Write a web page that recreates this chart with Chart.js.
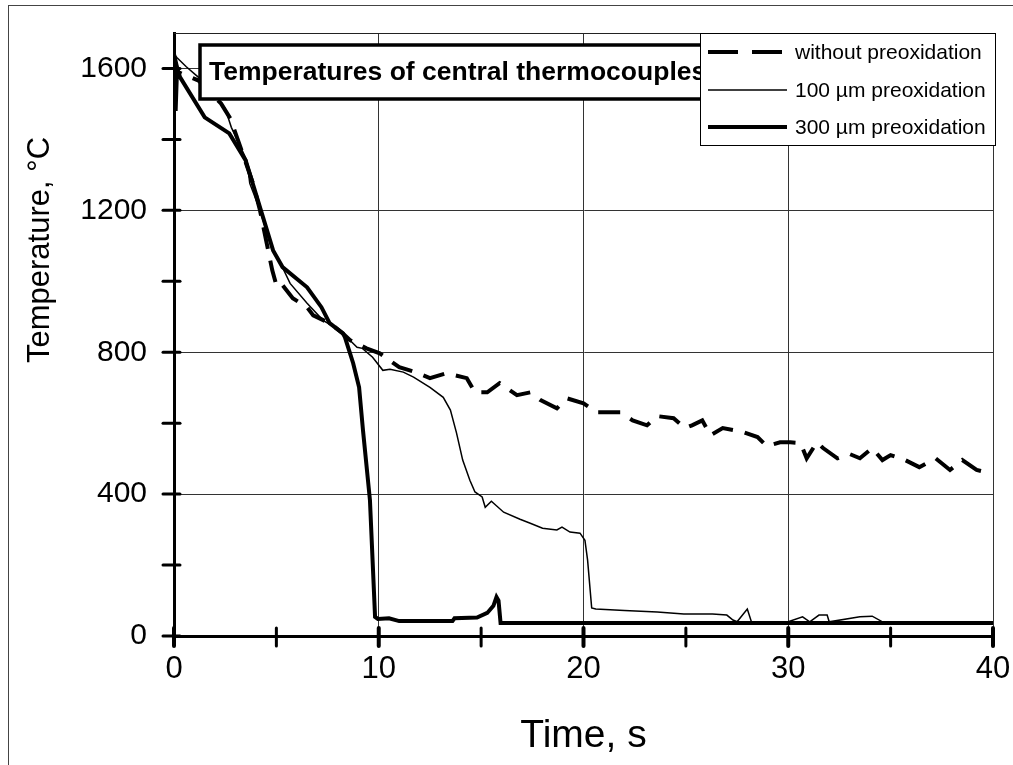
<!DOCTYPE html>
<html>
<head>
<meta charset="utf-8">
<script src="https://cdn.jsdelivr.net/npm/chart.js@4"></script>
<style>
  html, body { margin: 0; padding: 0; background: #fff; }
</style>
</head>
<body>
<canvas id="myChart" width="1013" height="765"></canvas>
<script>
// series: time (s) and temperature (°C)
var timeWithout = [0, 0.2, 1.2, 2.3, 2.75, 3.3, 3.86, 4.2, 4.6, 4.8, 5.03, 5.3, 5.8, 6.5, 6.8, 7.6, 8.25, 8.6, 9.4, 10.05,
  11.0, 11.8, 12.5, 13.3, 14.3, 14.7, 15.3, 15.9, 16.75, 17.4, 17.9, 18.7, 19.2, 20.0, 20.65, 21.8, 22.4, 23.1, 23.6, 24.4,
  24.96, 25.3, 25.8, 26.2, 26.8, 27.8, 28.5, 28.95, 29.6, 30.1, 30.6, 30.9, 31.4, 31.7, 32.4, 33.0, 33.5, 34.1, 34.6, 35.0,
  35.6, 36.4, 37.2, 37.9, 38.5, 39.2, 39.85];
var tempWithout = [1640, 1590, 1566, 1501, 1459, 1369, 1276, 1200, 1087, 1031, 983, 989, 952, 927, 904, 882, 853, 834, 811, 797,
  758, 744, 727, 741, 727, 687, 687, 713, 679, 687, 665, 642, 670, 656, 631, 631, 608, 594, 620, 614,
  586, 594, 608, 566, 586, 575, 561, 535, 546, 546, 544, 501, 546, 530, 501, 513, 501, 530, 496, 510,
  499, 476, 501, 468, 496, 468, 459];

var time100 = [0, 0.15, 0.6, 1.1, 1.8, 2.5, 2.8, 3.56, 3.7, 4.2, 4.7, 5.2, 5.67, 6.5, 7.28, 8.1, 8.94, 9.2, 9.7, 10.2,
  10.55, 11.2, 11.7, 12.5, 13.15, 13.5, 13.8, 14.1, 14.45, 14.7, 15.05, 15.2, 15.5, 16.1, 16.9, 17.4, 18.0, 18.7, 18.95, 19.34,
  19.83, 20.07, 20.2, 20.4, 20.6, 22.0, 23.6, 24.9, 26.3, 27.0, 27.3, 27.5, 28.0, 28.2, 30.0, 30.7, 31.05, 31.5, 31.9, 32.0,
  33.5, 34.1, 34.6, 36.0];
var temp100 = [1640, 1630, 1605, 1580, 1545, 1487, 1434, 1341, 1276, 1200, 1107, 1051, 994, 938, 890, 862, 814, 811, 786, 749,
  752, 744, 730, 701, 673, 637, 572, 496, 439, 406, 392, 363, 380, 349, 329, 318, 304, 299, 307, 293,
  290, 270, 214, 79, 76, 72, 68, 62, 62, 59, 45, 40, 76, 40, 40, 54, 40, 59, 59, 40,
  54, 56, 40, 40];

var time300 = [0, 0.08, 0.15, 0.3, 1.5, 2.7, 3.5, 4.35, 4.84, 5.3, 6.5, 7.2, 7.6, 8.25, 8.35, 8.75, 9.04, 9.23, 9.57, 9.82,
  9.96, 10.5, 11.0, 13.6, 13.7, 14.8, 15.3, 15.6, 15.75, 15.85, 15.95, 40];
var temp300 = [1610, 1480, 1600, 1575, 1462, 1417, 1341, 1180, 1087, 1040, 983, 927, 882, 853, 842, 769, 701, 580, 383, 54,
  48, 50, 42, 42, 50, 52, 65, 85, 110, 100, 37, 37];

var seriesNames = ['without preoxidation', '100 \u00b5m preoxidation', '300 \u00b5m preoxidation'];
var chartTitle = 'Temperatures of central thermocouples';
var xTicks = [0, 10, 20, 30, 40];
var yTicks = [0, 400, 800, 1200, 1600];

var FONT = "'Liberation Sans', Arial, sans-serif";

function toPoints(ts, vs) {
  return ts.map(function(t, i) { return { x: t, y: vs[i] }; });
}

var decor = {
  id: 'decor',
  beforeDraw: function(chart) {
    var ctx = chart.ctx;
    ctx.save();
    ctx.fillStyle = '#fff';
    ctx.fillRect(0, 0, chart.width, chart.height);
    // outer frame (right and bottom fall outside the picture)
    ctx.strokeStyle = '#444';
    ctx.lineWidth = 1;
    ctx.strokeRect(8.5, 5.5, 1100, 900);
    ctx.restore();
  },
  afterDraw: function(chart) {
    var ctx = chart.ctx, a = chart.chartArea;
    var xs = chart.scales.x, ys = chart.scales.y;
    ctx.save();

    // top frame of plot area
    ctx.strokeStyle = '#222';
    ctx.lineWidth = 1;
    ctx.beginPath();
    ctx.moveTo(a.left, a.top + 0.5);
    ctx.lineTo(a.right, a.top + 0.5);
    ctx.stroke();

    // tick marks crossing the axes
    ctx.strokeStyle = '#000';
    ctx.lineWidth = 3;
    ctx.lineCap = 'round';
    for (var v = 0; v <= 1600; v += 200) {
      var py = ys.getPixelForValue(v);
      ctx.beginPath();
      ctx.moveTo(a.left - 11, py);
      ctx.lineTo(a.left + 6, py);
      ctx.stroke();
    }
    for (var t = 0; t <= 40; t += 5) {
      var px = xs.getPixelForValue(t);
      ctx.lineWidth = (t % 10 === 0) ? 4 : 3;
      ctx.beginPath();
      ctx.moveTo(px, a.bottom - 8);
      ctx.lineTo(px, a.bottom + 10);
      ctx.stroke();
    }

    // y axis title
    ctx.fillStyle = '#000';
    ctx.font = '31px ' + FONT;
    ctx.textAlign = 'center';
    ctx.textBaseline = 'middle';
    ctx.translate(40, 250);
    ctx.rotate(-Math.PI / 2);
    ctx.fillText('Temperature, \u00b0C', 0, 0);
    ctx.setTransform(1, 0, 0, 1, 0, 0);

    // title box
    ctx.font = 'bold 26.5px ' + FONT;
    var tw = ctx.measureText(chartTitle).width;
    ctx.fillStyle = '#fff';
    ctx.fillRect(200, 45, tw + 26, 54);
    ctx.strokeStyle = '#000';
    ctx.lineWidth = 3.5;
    ctx.lineCap = 'butt';
    ctx.strokeRect(200, 45, tw + 26, 54);
    ctx.fillStyle = '#000';
    ctx.textAlign = 'left';
    ctx.textBaseline = 'middle';
    ctx.fillText(chartTitle, 209, 73);

    // legend box
    ctx.fillStyle = '#fff';
    ctx.fillRect(700.5, 33.5, 295, 112);
    ctx.lineWidth = 1;
    ctx.strokeStyle = '#000';
    ctx.strokeRect(700.5, 33.5, 295, 112);
    var rows = [52, 90, 127];
    chart.data.datasets.forEach(function(ds, i) {
      ctx.strokeStyle = ds.borderColor;
      ctx.lineWidth = ds.borderWidth;
      ctx.setLineDash(ds.borderDash ? [30, 14] : []);
      ctx.beginPath();
      ctx.moveTo(708, rows[i]);
      ctx.lineTo(787, rows[i]);
      ctx.stroke();
      ctx.setLineDash([]);
      ctx.fillStyle = '#000';
      ctx.font = '21px ' + FONT;
      ctx.textAlign = 'left';
      ctx.textBaseline = 'middle';
      ctx.fillText(ds.label, 795, rows[i] + 1);
    });
    ctx.restore();
  }
};

var ctx = document.getElementById('myChart').getContext('2d');
var myChart = new Chart(ctx, {
  type: 'line',
  data: {
    datasets: [
      {
        label: seriesNames[0],
        data: toPoints(timeWithout, tempWithout),
        borderColor: '#000',
        borderWidth: 4,
        borderDash: [22, 12],
        fill: false
      },
      {
        label: seriesNames[1],
        data: toPoints(time100, temp100),
        borderColor: '#000',
        borderWidth: 1.5,
        fill: false
      },
      {
        label: seriesNames[2],
        data: toPoints(time300, temp300),
        borderColor: '#000',
        borderWidth: 4,
        fill: false
      }
    ]
  },
  options: {
    responsive: false,
    animation: false,
    layout: { padding: { top: 33, right: 20, bottom: 0, left: 0 } },
    elements: {
      point: { radius: 0 },
      line: { tension: 0 }
    },
    plugins: {
      legend: { display: false },
      tooltip: { enabled: false }
    },
    scales: {
      x: {
        type: 'linear',
        min: 0,
        max: 40,
        afterBuildTicks: function(s) { s.ticks = xTicks.map(function(v) { return { value: v }; }); },
        ticks: {
          color: '#000', font: { family: FONT, size: 31 }, padding: 15, maxRotation: 0,
          callback: function(v) { return String(v); }
        },
        grid: { color: '#333', lineWidth: 1, drawTicks: false },
        border: { color: '#000', width: 3 },
        title: { display: true, text: 'Time, s', color: '#000', font: { family: FONT, size: 39 }, padding: { top: 0, bottom: 5 } },
        afterFit: function(s) { s.height = 129; s.paddingLeft = 0; s.paddingRight = 0; }
      },
      y: {
        type: 'linear',
        min: 0,
        max: 1700,
        afterBuildTicks: function(s) { s.ticks = yTicks.map(function(v) { return { value: v }; }); },
        ticks: {
          color: '#000', font: { family: FONT, size: 30 }, padding: 27,
          callback: function(v) { return String(v); }
        },
        grid: { color: '#333', lineWidth: 1, drawTicks: false },
        border: { color: '#000', width: 3 },
        afterFit: function(s) { s.width = 174; s.paddingTop = 0; s.paddingBottom = 0; }
      }
    }
  },
  plugins: [decor]
});
</script>
</body>
</html>
